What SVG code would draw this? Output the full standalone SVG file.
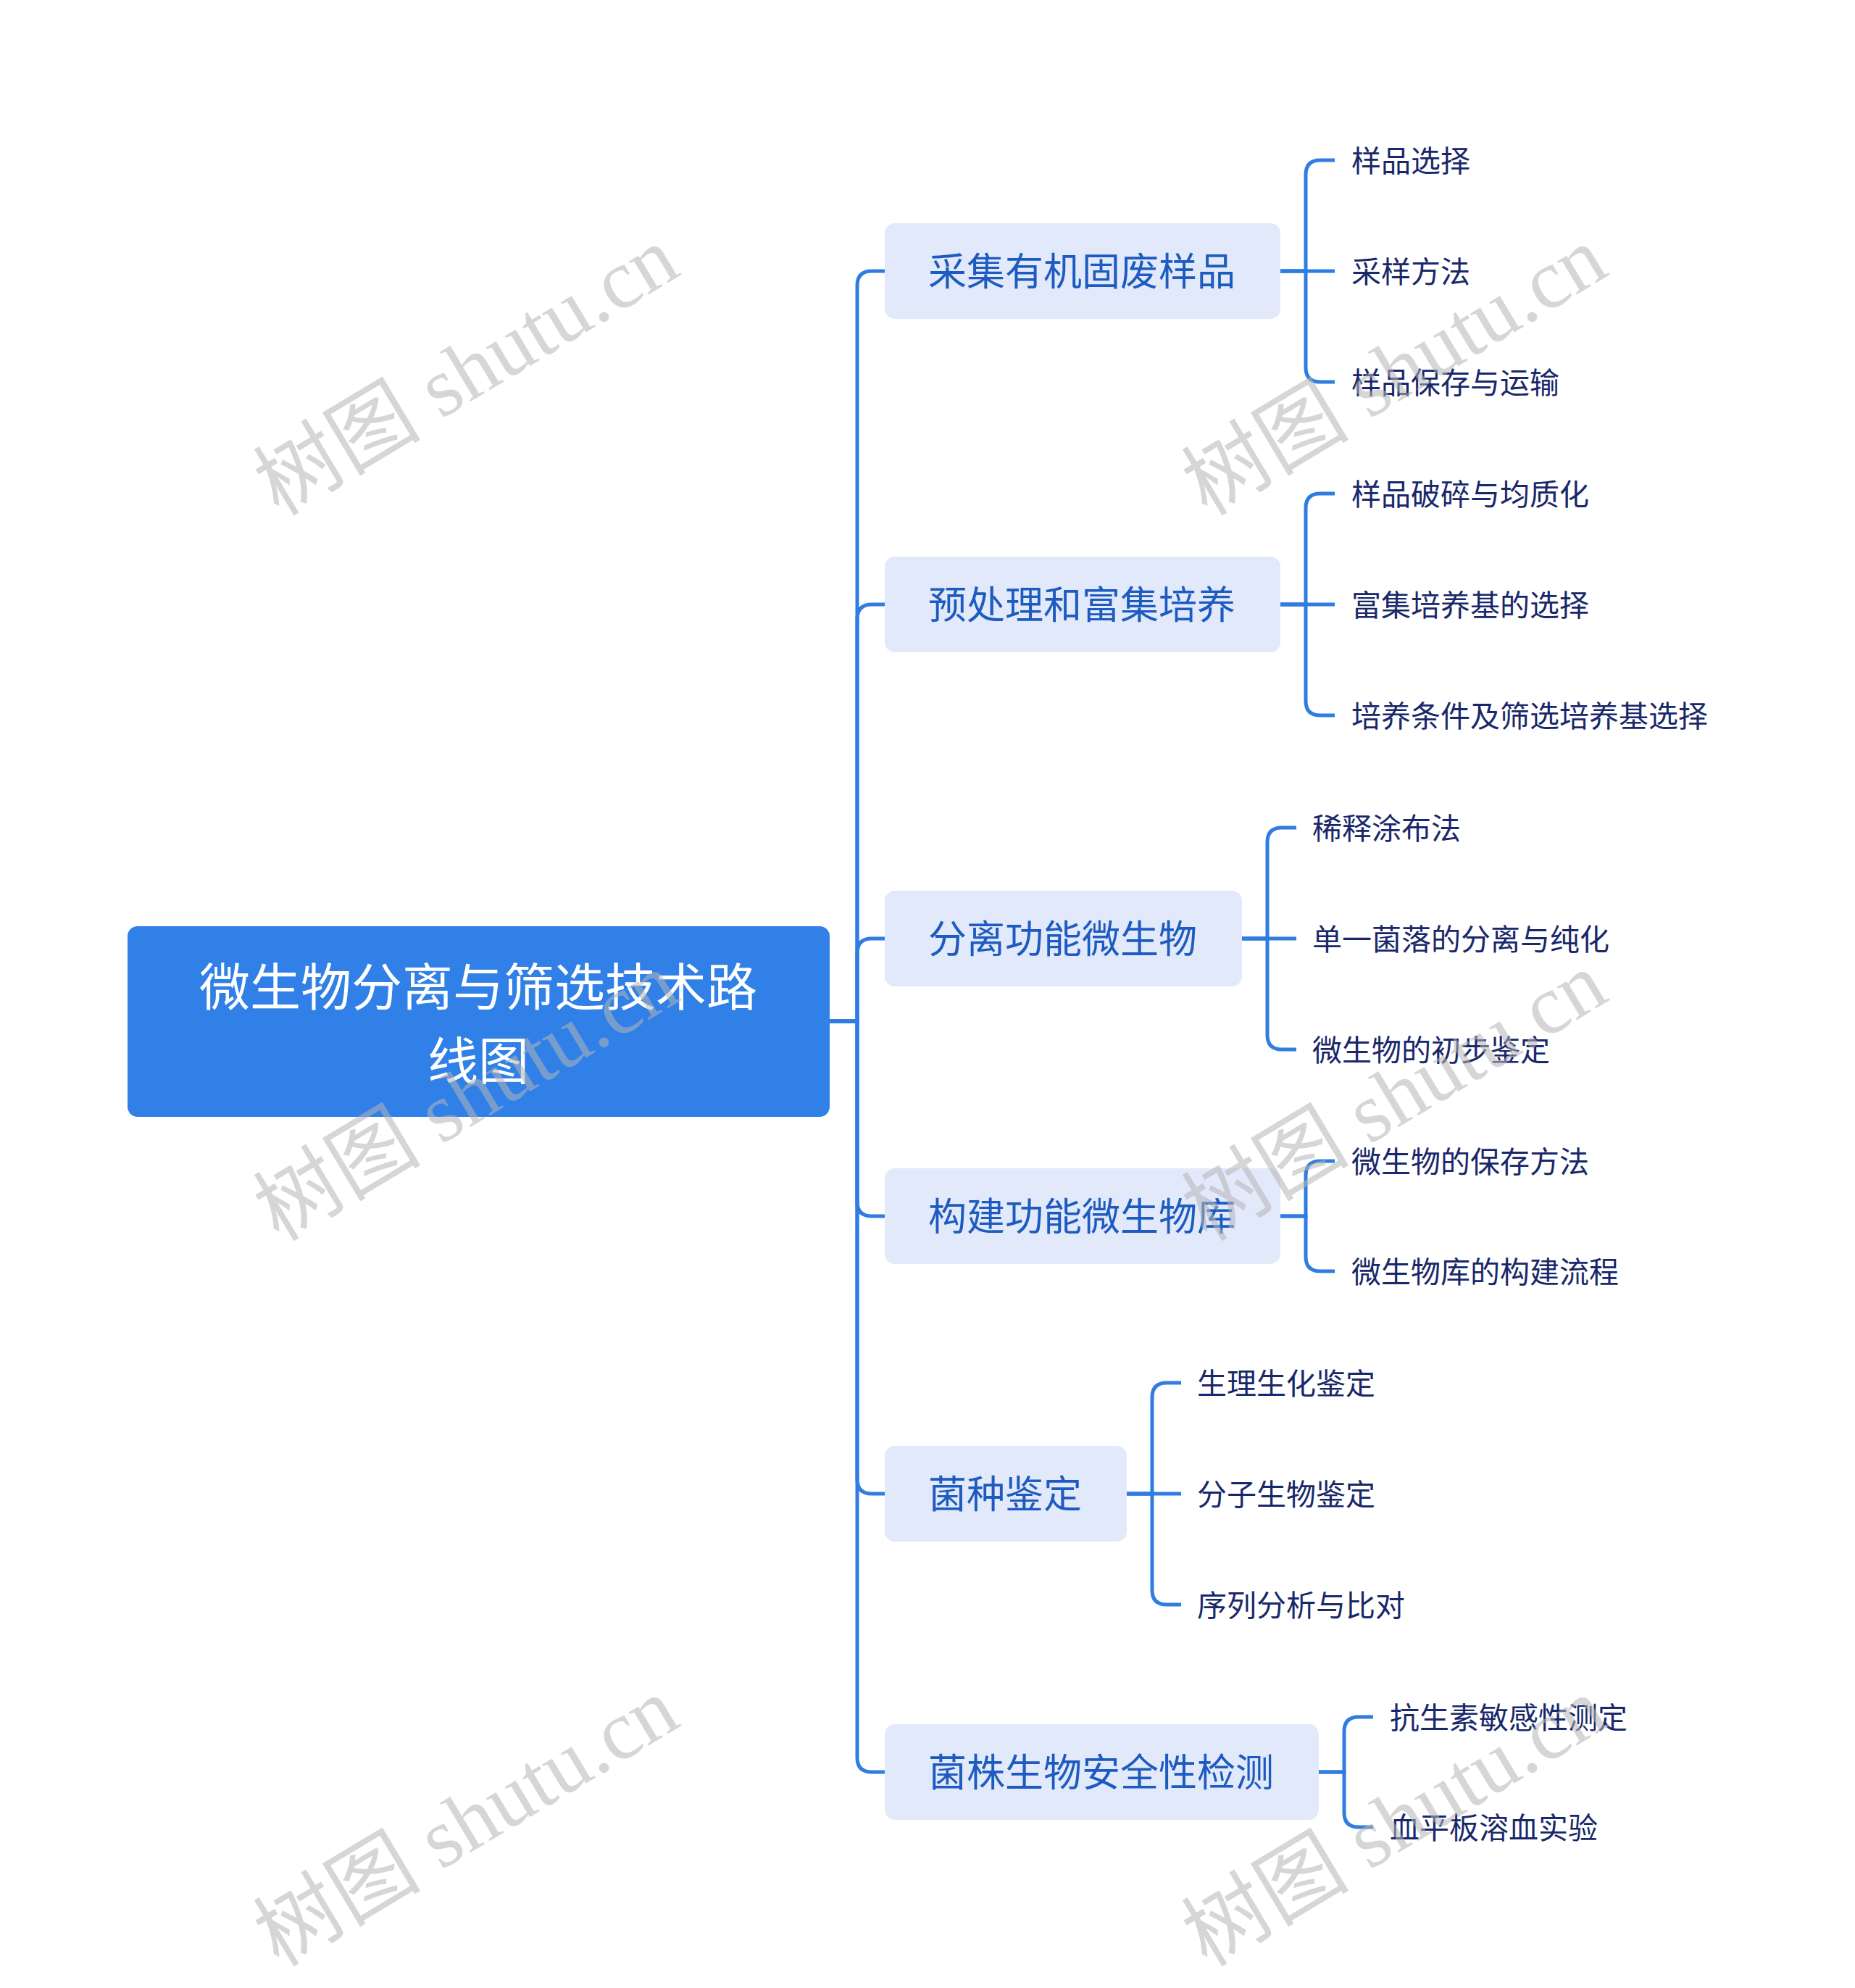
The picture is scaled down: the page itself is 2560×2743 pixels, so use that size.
<svg xmlns="http://www.w3.org/2000/svg" width="2560" height="2743" viewBox="0 0 2560 2743">
<style>
.edge{fill:none;stroke:#2f7de1;stroke-width:5}
.box{fill:#e2e9fb}
.l1{font-family:"Noto Sans CJK SC","Noto Sans",sans-serif;font-size:53px;fill:#1d5bc0;text-anchor:middle}
.l2{font-family:"Noto Sans CJK SC","Noto Sans",sans-serif;font-size:41px;fill:#19286a}
.root{font-family:"Noto Sans CJK SC","Noto Sans",sans-serif;font-size:70px;fill:#ffffff;text-anchor:middle}
.wm{font-family:"Liberation Serif","Noto Sans CJK SC",serif;font-size:116px;fill:#b4b4b4;fill-opacity:0.55;text-anchor:middle}
</style>
<rect width="2560" height="2743" fill="#ffffff"/>
<g id="connectors">
<path class="edge" d="M1145 1409 H1183 V394 Q1183 374 1203 374 H1221"/>
<path class="edge" d="M1145 1409 H1183 V854 Q1183 834 1203 834 H1221"/>
<path class="edge" d="M1145 1409 H1183 V1315 Q1183 1295 1203 1295 H1221"/>
<path class="edge" d="M1145 1409 H1183 V1658 Q1183 1678 1203 1678 H1221"/>
<path class="edge" d="M1145 1409 H1183 V2041 Q1183 2061 1203 2061 H1221"/>
<path class="edge" d="M1145 1409 H1183 V2425 Q1183 2445 1203 2445 H1221"/>
<path class="edge" d="M1767 374 H1802 V241 Q1802 221 1822 221 H1842"/>
<path class="edge" d="M1767 374 H1842"/>
<path class="edge" d="M1767 374 H1802 V507 Q1802 527 1822 527 H1842"/>
<path class="edge" d="M1767 834 H1802 V701 Q1802 681 1822 681 H1842"/>
<path class="edge" d="M1767 834 H1842"/>
<path class="edge" d="M1767 834 H1802 V967 Q1802 987 1822 987 H1842"/>
<path class="edge" d="M1714 1295 H1749 V1162 Q1749 1142 1769 1142 H1789"/>
<path class="edge" d="M1714 1295 H1789"/>
<path class="edge" d="M1714 1295 H1749 V1428 Q1749 1448 1769 1448 H1789"/>
<path class="edge" d="M1767 1678 H1802 V1622 Q1802 1602 1822 1602 H1842"/>
<path class="edge" d="M1767 1678 H1802 V1734 Q1802 1754 1822 1754 H1842"/>
<path class="edge" d="M1555 2061 H1590 V1928 Q1590 1908 1610 1908 H1630"/>
<path class="edge" d="M1555 2061 H1630"/>
<path class="edge" d="M1555 2061 H1590 V2194 Q1590 2214 1610 2214 H1630"/>
<path class="edge" d="M1820 2445 H1855 V2389 Q1855 2369 1875 2369 H1895"/>
<path class="edge" d="M1820 2445 H1855 V2501 Q1855 2521 1875 2521 H1895"/>
</g>
<g id="root">
<rect x="176" y="1278" width="969" height="263" rx="14" fill="#3080e8"/>
<text class="root" x="660" y="1388">微生物分离与筛选技术路</text>
<text class="root" x="660" y="1490">线图</text>
</g>
<g id="n1"><rect class="box" x="1221" y="308" width="546" height="132" rx="14"/><text class="l1" x="1493" y="394">采集有机固废样品</text></g>
<g id="n1c1"><text class="l2" x="1865" y="237">样品选择</text></g>
<g id="n1c2"><text class="l2" x="1865" y="390">采样方法</text></g>
<g id="n1c3"><text class="l2" x="1865" y="543">样品保存与运输</text></g>
<g id="n2"><rect class="box" x="1221" y="768" width="546" height="132" rx="14"/><text class="l1" x="1493" y="854">预处理和富集培养</text></g>
<g id="n2c1"><text class="l2" x="1865" y="697">样品破碎与均质化</text></g>
<g id="n2c2"><text class="l2" x="1865" y="850">富集培养基的选择</text></g>
<g id="n2c3"><text class="l2" x="1865" y="1003">培养条件及筛选培养基选择</text></g>
<g id="n3"><rect class="box" x="1221" y="1229" width="493" height="132" rx="14"/><text class="l1" x="1466.5" y="1315">分离功能微生物</text></g>
<g id="n3c1"><text class="l2" x="1811" y="1158">稀释涂布法</text></g>
<g id="n3c2"><text class="l2" x="1811" y="1311">单一菌落的分离与纯化</text></g>
<g id="n3c3"><text class="l2" x="1811" y="1464">微生物的初步鉴定</text></g>
<g id="n4"><rect class="box" x="1221" y="1612" width="546" height="132" rx="14"/><text class="l1" x="1493" y="1698">构建功能微生物库</text></g>
<g id="n4c1"><text class="l2" x="1865" y="1618">微生物的保存方法</text></g>
<g id="n4c2"><text class="l2" x="1865" y="1770">微生物库的构建流程</text></g>
<g id="n5"><rect class="box" x="1221" y="1995" width="334" height="132" rx="14"/><text class="l1" x="1387" y="2081">菌种鉴定</text></g>
<g id="n5c1"><text class="l2" x="1652" y="1924">生理生化鉴定</text></g>
<g id="n5c2"><text class="l2" x="1652" y="2077">分子生物鉴定</text></g>
<g id="n5c3"><text class="l2" x="1652" y="2230">序列分析与比对</text></g>
<g id="n6"><rect class="box" x="1221" y="2379" width="599" height="132" rx="14"/><text class="l1" x="1519.5" y="2465">菌株生物安全性检测</text></g>
<g id="n6c1"><text class="l2" x="1918" y="2385">抗生素敏感性测定</text></g>
<g id="n6c2"><text class="l2" x="1918" y="2537">血平板溶血实验</text></g>
<g id="watermarks">
<text class="wm" transform="translate(644 513) rotate(-31)" y="38">树图 shutu.cn</text>
<text class="wm" transform="translate(1925 513) rotate(-31)" y="38">树图 shutu.cn</text>
<text class="wm" transform="translate(644 1514) rotate(-31)" y="38">树图 shutu.cn</text>
<text class="wm" transform="translate(1925 1514) rotate(-31)" y="38">树图 shutu.cn</text>
<text class="wm" transform="translate(644 2515) rotate(-31)" y="38">树图 shutu.cn</text>
<text class="wm" transform="translate(1925 2515) rotate(-31)" y="38">树图 shutu.cn</text>
</g>
</svg>
